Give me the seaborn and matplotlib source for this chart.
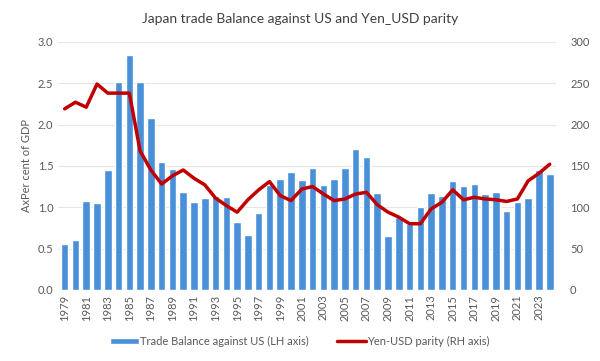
import numpy as np
import pandas as pd
import seaborn as sns
import matplotlib.pyplot as plt
from matplotlib.patches import Patch
from matplotlib.lines import Line2D

years = list(range(1979, 2025))
trade_balance = [0.55, 0.60, 1.08, 1.05, 1.45, 2.52, 2.84, 2.51, 2.08, 1.55,
                 1.46, 1.19, 1.06, 1.11, 1.13, 1.12, 0.82, 0.66, 0.93, 1.27,
                 1.34, 1.43, 1.33, 1.47, 1.27, 1.34, 1.47, 1.70, 1.61, 1.17,
                 0.65, 0.88, 0.80, 1.00, 1.17, 1.14, 1.32, 1.26, 1.28, 1.16,
                 1.18, 0.95, 1.06, 1.11, 1.45, 1.40]
yen_usd = [219, 227, 221, 249, 238, 238, 238, 168, 145, 128,
           138, 145, 135, 127, 111, 102, 94, 109, 121, 131,
           114, 108, 122, 125, 116, 108, 110, 116, 118, 103,
           94, 88, 80, 80, 98, 106, 121, 109, 112, 110,
           109, 107, 110, 132, 141, 152]

df = pd.DataFrame({'year': [str(y) for y in years],
                   'tb': trade_balance, 'yen': yen_usd})

sns.set_style('white')
plt.rcParams['font.family'] = ['Lato', 'DejaVu Sans']

bar_col = '#4A90D9'
line_col = '#C00000'
txt_col = '#595959'

fig = plt.figure(figsize=(6, 3.61), dpi=100)
ax = fig.add_axes([0.097, 0.197, 0.83, 0.687])
sns.barplot(data=df, x='year', y='tb', color=bar_col, width=0.7,
            saturation=1, ax=ax, zorder=2)
ax.set_ylim(0, 3.0)
ax.set_yticks(np.arange(0, 3.01, 0.5))
ax.set_yticklabels([f'{v:.1f}' for v in np.arange(0, 3.01, 0.5)])
ax.set_xlim(-0.6, len(years) - 0.4)
ax.set_xticks(range(0, len(years), 2))
ax.set_xticklabels([str(y) for y in years[::2]], rotation=90)
ax.yaxis.grid(True, color='#E6E6E6', lw=0.8, zorder=0)
ax.set_axisbelow(True)
ax.set_xlabel('')
ax.set_ylabel('AxPer cent of GDP', fontsize=8, color=txt_col)
ax.tick_params(axis='both', labelsize=8, colors=txt_col, length=0)
for s in ax.spines.values():
    s.set_visible(False)

ax2 = ax.twinx()
sns.lineplot(x=np.arange(len(years)), y=df['yen'], color=line_col, lw=2.5,
             ax=ax2)
ax2.set_ylim(0, 300)
ax2.set_yticks(range(0, 301, 50))
ax2.set_ylabel('')
ax2.tick_params(axis='y', labelsize=8, colors=txt_col, length=0, pad=10)
for s in ax2.spines.values():
    s.set_visible(False)

fig.suptitle('Japan trade Balance against US and Yen_USD parity',
             fontsize=10, color='#404040', y=0.965)

handles = [Patch(facecolor=bar_col, label='Trade Balance against US (LH axis)'),
           Line2D([0], [0], color=line_col, lw=2.5, label='Yen-USD parity (RH axis)')]
fig.legend(handles=handles, loc='center', bbox_to_anchor=(0.5, 0.055), ncol=2,
           frameon=False, fontsize=8, labelcolor=txt_col, handlelength=2.6,
           handleheight=0.5, handletextpad=0.1, columnspacing=2.5)

fig.savefig('out.png', dpi=100)
